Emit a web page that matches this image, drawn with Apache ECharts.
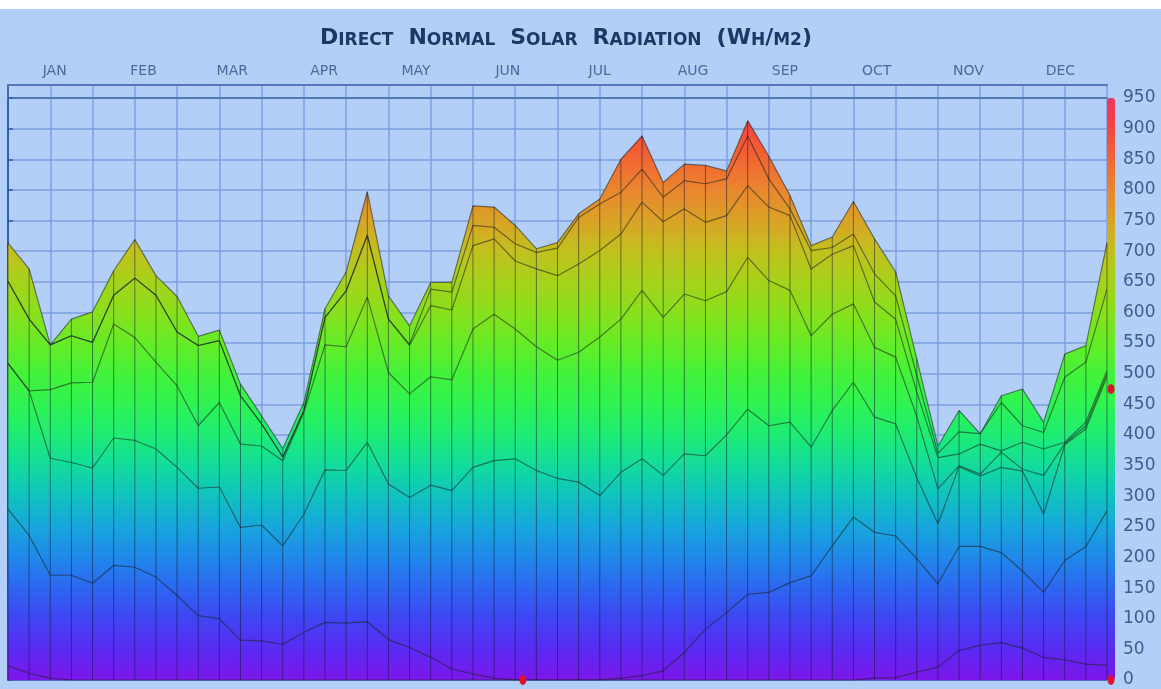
<!DOCTYPE html>
<html>
<head>
<meta charset="utf-8">
<script src="https://cdn.jsdelivr.net/npm/echarts@6/dist/echarts.min.js"></script>
<style>
html, body { margin: 0; padding: 0; background: #ffffff; }
#main {
    position: absolute;
    left: 0;
    top: 9px;
    width: 1161px;
    height: 680px;
    background: #b4cff7;
}
</style>
</head>
<body>
<div id="main"></div>
<script>
// weekly values, 53 points (Jan 1 .. Dec 31)
const weeks = Array.from({ length: 53 }, (_, i) => "W" + (i + 1));

const lineMax = [713, 671, 547, 589, 601, 668, 719, 660, 626, 561, 571, 483, 431, 378, 453, 606, 666, 797, 627, 578,
    649, 649, 774, 772, 742, 704, 714, 761, 785, 850, 888, 812, 842, 840, 831, 913, 855, 791, 709, 723,
    781, 720, 666, 524, 382, 440, 402, 464, 475, 421, 532, 546, 714];
const line2 = [651, 589, 547, 562, 551, 628, 656, 628, 568, 546, 554, 464, 418, 364, 440, 592, 635, 726, 589, 548,
    638, 633, 742, 739, 712, 698, 705, 755, 777, 796, 834, 788, 815, 810, 818, 888, 818, 769, 701, 706,
    728, 663, 627, 497, 370, 405, 402, 453, 415, 404, 494, 519, 638];
const line3 = [651, 589, 547, 562, 551, 628, 656, 628, 568, 546, 554, 464, 418, 364, 440, 592, 635, 726, 589, 546,
    611, 604, 709, 720, 684, 671, 660, 679, 701, 728, 780, 748, 769, 747, 758, 807, 772, 758, 671, 695,
    709, 617, 589, 470, 363, 369, 385, 374, 388, 377, 388, 421, 505];
const line4 = [517, 472, 474, 485, 486, 581, 559, 519, 480, 415, 453, 385, 382, 358, 437, 547, 544, 625, 502, 467,
    495, 490, 573, 597, 573, 544, 522, 535, 560, 589, 636, 592, 630, 619, 634, 690, 652, 636, 562, 597,
    614, 543, 527, 430, 312, 350, 336, 372, 344, 334, 386, 415, 500];
const line5 = [517, 472, 362, 355, 346, 395, 391, 377, 347, 313, 315, 249, 253, 219, 271, 343, 342, 388, 320, 298,
    318, 309, 347, 358, 361, 342, 329, 323, 301, 339, 361, 334, 369, 366, 400, 442, 415, 421, 380, 440,
    486, 429, 418, 330, 255, 348, 333, 347, 341, 271, 384, 410, 495];
const line6 = [279, 236, 171, 171, 158, 187, 184, 168, 138, 105, 100, 65, 64, 58, 78, 94, 93, 95, 66, 53,
    37, 18, 10, 3, 0, 0, 0, 0, 0, 3, 7, 15, 45, 83, 110, 140, 143, 159, 170, 219,
    266, 241, 235, 198, 157, 218, 218, 208, 178, 143, 195, 218, 276];
const lineMin = [23, 11, 3, 0, 0, 0, 0, 0, 0, 0, 0, 0, 0, 0, 0, 0, 0, 0, 0, 0,
    0, 0, 0, 0, 0, 0, 0, 0, 0, 0, 0, 0, 0, 0, 0, 0, 0, 0, 0, 0,
    0, 3, 4, 13, 21, 48, 57, 61, 52, 37, 33, 26, 24];

const months = ["JAN", "FEB", "MAR", "APR", "MAY", "JUN", "JUL", "AUG", "SEP", "OCT", "NOV", "DEC"];
const monthEnds = [31, 59, 90, 120, 151, 181, 212, 243, 273, 304, 334, 365];
const monthMids = [15.5, 45, 74.5, 105, 135.5, 166, 196.5, 227.5, 258, 288.5, 319, 349.5];

// value -> colour, one stop every 50 Wh/m2 from 0 to 950
const rampColors = ["#7d16ea", "#5a2af2", "#3f45f3", "#2d66f0", "#2088ea", "#17a6dc", "#10c2c0", "#12dc9c",
    "#1eec74", "#2ef352", "#44f23a", "#66ec26", "#88e01c", "#a6d21a", "#c2c01e", "#daa226", "#ea862e",
    "#f26632", "#f5483c", "#ec3560"];

const gridLine = "#7d9fe0";
const axisBlue = "#3f66ad";
const bandBlue = "#5479bb";

const layers = [lineMax, line2, line3, line4, line5, line6, lineMin];

const chart = echarts.init(document.getElementById("main"));

const option = {
    animation: false,
    title: {
        text: "{b|D}{s|IRECT}   {b|N}{s|ORMAL}   {b|S}{s|OLAR}   {b|R}{s|ADIATION}   {b|(W}{s|H}{b|/}{s|M2}{b|)}",
        left: 561,
        textAlign: "center",
        top: 9,
        textStyle: {
            rich: {
                b: { fontFamily: "DejaVu Sans", fontWeight: "bold", fontSize: 22, color: "#1d3864", verticalAlign: "bottom", lineHeight: 26 },
                s: { fontFamily: "DejaVu Sans", fontWeight: "bold", fontSize: 17, color: "#1d3864", verticalAlign: "bottom", lineHeight: 26 }
            }
        }
    },
    grid: [
        { left: 8, right: 54, top: 89, bottom: 9 },
        { left: 8, right: 54, top: 76, height: 13 }
    ],
    visualMap: {
        type: "continuous",
        seriesIndex: [0, 1, 2, 3, 4, 5, 6],
        dimension: 1,
        min: 0,
        max: 950,
        calculable: false,
        orient: "vertical",
        left: 1107,
        top: 89,
        padding: 0,
        itemWidth: 8,
        itemHeight: 582,
        text: null,
        inRange: { color: rampColors }
    },
    xAxis: [
        {
            type: "category",
            gridIndex: 0,
            data: weeks,
            boundaryGap: false,
            axisLine: { show: true, onZero: false, lineStyle: { color: "#3d55b8", width: 1.5 } },
            axisTick: { show: false },
            axisLabel: { show: false },
            splitLine: { show: true, lineStyle: { color: gridLine, width: 1.5 } }
        },
        {
            type: "value",
            gridIndex: 0,
            position: "top",
            min: 0,
            max: 365,
            axisLine: { show: false },
            splitLine: { show: false },
            axisTick: {
                show: true,
                length: 16,
                customValues: monthEnds,
                lineStyle: { color: axisBlue, width: 1.5 }
            },
            axisLabel: {
                show: true,
                margin: 20,
                customValues: monthMids,
                formatter: (v) => months[monthMids.indexOf(v)] || "",
                fontFamily: "DejaVu Sans",
                fontSize: 14,
                color: "#4a6a9c"
            }
        },
        {
            type: "category",
            gridIndex: 1,
            data: weeks,
            boundaryGap: false,
            position: "top",
            axisLine: { show: true, onZero: false, lineStyle: { color: bandBlue, width: 2 } },
            axisTick: { show: false },
            axisLabel: { show: false },
            splitLine: { show: true, lineStyle: { color: gridLine, width: 1.5 } }
        },
        {
            type: "category",
            gridIndex: 1,
            data: weeks,
            boundaryGap: false,
            position: "bottom",
            axisLine: { show: true, onZero: false, lineStyle: { color: bandBlue, width: 2 } },
            axisTick: { show: false },
            axisLabel: { show: false },
            splitLine: { show: false }
        }
    ],
    yAxis: [
        {
            type: "value",
            gridIndex: 0,
            position: "right",
            offset: 8,
            min: 0,
            max: 950,
            interval: 50,
            axisLine: { show: true, lineStyle: { color: "#2d5aa8", width: 1.5 } },
            axisTick: { show: true, length: 5, lineStyle: { color: "#2d5aa8", width: 1.5 } },
            axisLabel: {
                margin: 8,
                fontFamily: "DejaVu Sans",
                fontSize: 17,
                color: "#3b5d90"
            },
            splitLine: { show: true, lineStyle: { color: gridLine, width: 1.5 } }
        },
        {
            type: "value",
            gridIndex: 0,
            position: "left",
            min: 0,
            max: 950,
            axisLine: { show: true, lineStyle: { color: "#2f5aa6", width: 1.5 } },
            axisTick: { show: false },
            axisLabel: { show: false },
            splitLine: { show: false }
        },
        {
            type: "value",
            gridIndex: 1,
            position: "left",
            min: 0,
            max: 1,
            axisLine: { show: true, lineStyle: { color: "#2f5aa6", width: 1.5 } },
            axisTick: { show: false },
            axisLabel: { show: false },
            splitLine: { show: false }
        }
    ],
    series: layers.map((vals) => ({
        type: "line",
        xAxisIndex: 0,
        yAxisIndex: 0,
        data: vals,
        showSymbol: false,
        silent: true,
        lineStyle: { color: "rgba(25,35,30,0.55)", width: 1.2 },
        areaStyle: { opacity: 1 }
    })).concat([{
        // dark week separators drawn over the filled area, from 0 up to the top line
        type: "custom",
        xAxisIndex: 0,
        yAxisIndex: 0,
        silent: true,
        z: 5,
        data: lineMax.map((v, i) => [i, v]),
        renderItem: (params, api) => {
            const top = api.coord([api.value(0), api.value(1)]);
            const base = api.coord([api.value(0), 0]);
            return {
                type: "line",
                shape: { x1: top[0], y1: top[1], x2: base[0], y2: base[1] },
                style: { stroke: "rgba(15,20,50,0.5)", lineWidth: 1 }
            };
        }
    }])
};

chart.setOption(option);

// small red markers seen on the original (slider handles)
const barX = chart.convertToPixel({ xAxisIndex: 0 }, weeks[52]) + 4;
const dots = [
    [barX, chart.convertToPixel({ yAxisIndex: 0 }, 475)],
    [barX, chart.convertToPixel({ yAxisIndex: 0 }, 0)],
    [chart.convertToPixel({ xAxisIndex: 1 }, 171), chart.convertToPixel({ yAxisIndex: 0 }, 0)]
];
chart.setOption({
    graphic: dots.map((p) => ({
        type: "ellipse",
        shape: { cx: p[0], cy: p[1], rx: 3.5, ry: 5 },
        style: { fill: "#e0102e" },
        z: 100
    }))
});
</script>
</body>
</html>
